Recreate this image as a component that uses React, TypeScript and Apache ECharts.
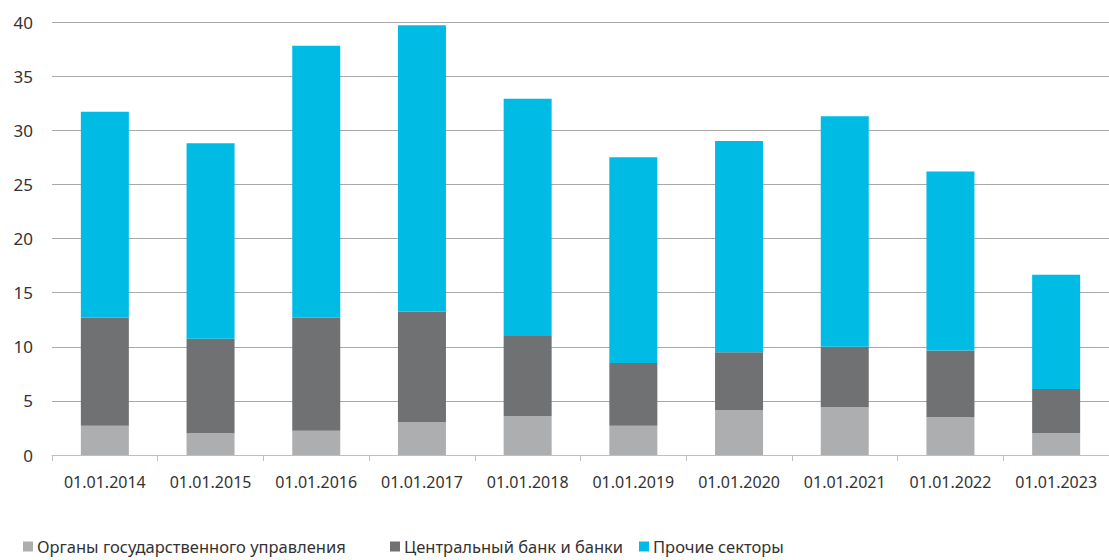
import React, { useEffect, useRef } from "react";
import * as echarts from "echarts";

const categories = [
  "01.01.2014", "01.01.2015", "01.01.2016", "01.01.2017", "01.01.2018",
  "01.01.2019", "01.01.2020", "01.01.2021", "01.01.2022", "01.01.2023",
];
const govValues = [2.7, 2.0, 2.25, 3.05, 3.6, 2.7, 4.15, 4.4, 3.5, 2.0];
const bankValues = [10.0, 8.75, 10.45, 10.2, 7.4, 5.8, 5.35, 5.6, 6.15, 4.1];
const otherValues = [19.0, 18.05, 25.1, 26.45, 21.9, 19.0, 19.5, 21.3, 16.55, 10.55];
const seriesNames = [
  "Органы государственного управления",
  "Центральный банк и банки",
  "Прочие секторы",
];
const colors = ["#ADAEB0", "#707173", "#00BCE4"];
const legendLefts = [21, 388, 637];

const FONT = "'Noto Sans', sans-serif";

export default function App() {
  const ref = useRef<HTMLDivElement>(null);
  useEffect(() => {
    if (!ref.current) return;
    const chart = echarts.init(ref.current, undefined, { renderer: "svg" });
    const data = [govValues, bankValues, otherValues];
    chart.setOption({
      animation: false,
      color: colors,
      textStyle: { fontFamily: FONT },
      grid: { left: 52, top: 22, width: 1064, height: 433, containLabel: false },
      legend: seriesNames.map((n, i) => ({
        left: legendLefts[i],
        top: 536,
        padding: 2,
        itemWidth: 10,
        itemHeight: 10,
        itemGap: 0,
        icon: "rect",
        textStyle: { fontSize: 16.5, color: "#333", fontFamily: FONT, padding: [0, 0, 0, -1] },
        data: [n],
      })),
      xAxis: {
        type: "category",
        data: categories,
        axisLine: { lineStyle: { color: "#BFBFBF", width: 1 } },
        axisTick: { show: true, length: 6, lineStyle: { color: "#BFBFBF" } },
        axisLabel: { fontSize: 16, color: "#333", margin: 19, fontFamily: FONT, interval: 0 },
      },
      yAxis: {
        type: "value",
        min: 0,
        max: 40,
        interval: 5,
        axisLine: { show: false },
        axisTick: { show: false },
        axisLabel: { fontSize: 17, color: "#333", margin: 19, fontFamily: FONT },
        splitLine: { lineStyle: { color: "#A8A8A8", width: 1 } },
      },
      series: data.map((vals, i) => ({
        name: seriesNames[i],
        type: "bar",
        stack: "total",
        barWidth: 48,
        data: vals,
        itemStyle: { color: colors[i] },
      })),
    });
    return () => chart.dispose();
  }, []);
  return (
    <div
      ref={ref}
      style={{ position: "absolute", left: 0, top: 0, width: 1109, height: 560 }}
    />
  );
}
